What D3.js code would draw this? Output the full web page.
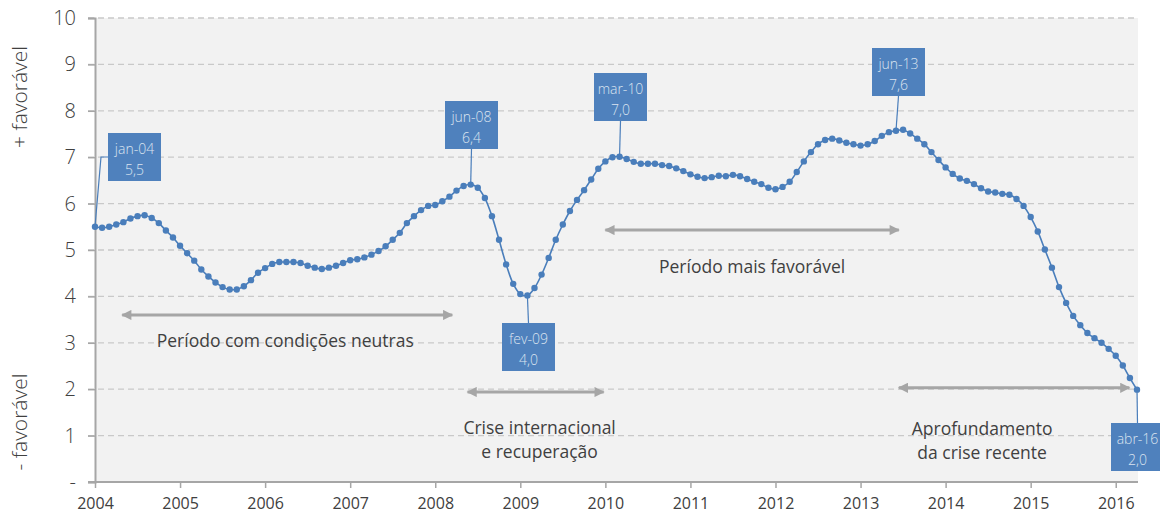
<!DOCTYPE html>
<html>
<head>
<meta charset="utf-8">
<script src="https://cdn.jsdelivr.net/npm/d3@7"></script>
<style>
  body { margin: 0; background: #fff; }
  svg text { font-family: "Open Sans", "Noto Sans", sans-serif; }
</style>
</head>
<body>
<div id="chart"></div>
<script>
// monthly index, jan-04 .. abr-16
var values = [
  5.50, 5.48, 5.50, 5.55, 5.60, 5.68, 5.73, 5.75, 5.69, 5.58, 5.42, 5.27,
  5.09, 4.93, 4.77, 4.58, 4.43, 4.30, 4.20, 4.15, 4.15, 4.22, 4.35, 4.51,
  4.61, 4.70, 4.74, 4.74, 4.74, 4.72, 4.66, 4.62, 4.59, 4.62, 4.66, 4.72,
  4.78, 4.80, 4.84, 4.90, 4.98, 5.08, 5.22, 5.37, 5.58, 5.73, 5.86, 5.95,
  5.97, 6.05, 6.15, 6.28, 6.38, 6.41, 6.34, 6.12, 5.73, 5.22, 4.69, 4.27,
  4.05, 4.02, 4.18, 4.47, 4.83, 5.22, 5.55, 5.84, 6.08, 6.29, 6.52, 6.75,
  6.91, 7.00, 7.01, 6.96, 6.90, 6.86, 6.86, 6.86, 6.83, 6.81, 6.76, 6.70,
  6.63, 6.58, 6.55, 6.57, 6.60, 6.59, 6.62, 6.59, 6.53, 6.47, 6.42, 6.34,
  6.31, 6.36, 6.47, 6.68, 6.91, 7.11, 7.28, 7.37, 7.40, 7.36, 7.31, 7.28,
  7.25, 7.28, 7.35, 7.46, 7.54, 7.57, 7.59, 7.51, 7.40, 7.28, 7.11, 6.94,
  6.78, 6.64, 6.54, 6.49, 6.42, 6.33, 6.26, 6.24, 6.21, 6.19, 6.10, 5.95,
  5.71, 5.40, 5.01, 4.62, 4.20, 3.86, 3.58, 3.38, 3.21, 3.10, 3.00, 2.87,
  2.72, 2.51, 2.24, 1.99
];
var years = [2004, 2005, 2006, 2007, 2008, 2009, 2010, 2011, 2012, 2013, 2014, 2015, 2016];
var yTicks = [0, 1, 2, 3, 4, 5, 6, 7, 8, 9, 10];

// highlighted points: month index, label, value text
var callouts = [
  { i: 0,   label: "jan-04", value: "5,5" },
  { i: 53,  label: "jun-08", value: "6,4" },
  { i: 61,  label: "fev-09", value: "4,0" },
  { i: 74,  label: "mar-10", value: "7,0" },
  { i: 113, label: "jun-13", value: "7,6" },
  { i: 147, label: "abr-16", value: "2,0" }
];

// period arrows: start/end as decimal years, y level, text lines
var periods = [
  { from: 2004.32, to: 2008.2,  y: 3.6, text: ["Período com condições neutras"] },
  { from: 2008.38, to: 2009.98, y: 1.94, text: ["Crise internacional", "e recuperação"] },
  { from: 2010.0,  to: 2013.45, y: 5.43, text: ["Período mais favorável"] },
  { from: 2013.45, to: 2016.16, y: 2.03, text: ["Aprofundamento", "da crise recente"] }
];

window.onload = init;

function init() {
    var w = 1160;
    var h = 523;
    var pLeft = 95, pRight = 1137, pTop = 18, pBottom = 482;

    var svg = d3.select("#chart").append("svg")
        .attr("width", w)
        .attr("height", h);

    var x = d3.scaleLinear().domain([2004, 2004 + 147 / 12]).range([pLeft, pRight]);
    var y = d3.scaleLinear().domain([0, 10]).range([pBottom, pTop]);
    function xi(i) { return x(2004 + i / 12); }

    var blue = "#4f81bd";
    var grey = "#a6a6a6";

    svg.append("defs").append("marker")
        .attr("id", "head")
        .attr("viewBox", "0 0 10 10")
        .attr("refX", 9).attr("refY", 5)
        .attr("markerWidth", 4).attr("markerHeight", 3.4)
        .attr("markerUnits", "strokeWidth")
        .attr("orient", "auto-start-reverse")
        .append("path")
        .attr("d", "M0,0 L10,5 L0,10 z")
        .attr("fill", grey);

    // plot background
    svg.append("rect")
        .attr("x", pLeft).attr("y", pTop)
        .attr("width", pRight - pLeft + 1).attr("height", pBottom - pTop)
        .attr("fill", "#f2f2f2");

    // gridlines
    svg.selectAll("line.grid")
        .data(yTicks.filter(function(d) { return d > 0; }))
        .enter()
        .append("line")
        .attr("class", "grid")
        .attr("x1", pLeft - 7).attr("x2", pRight)
        .attr("y1", function(d) { return y(d); })
        .attr("y2", function(d) { return y(d); })
        .attr("stroke", "#c9c9c9")
        .attr("stroke-width", 1.3)
        .attr("stroke-dasharray", "6,4");

    // y axis
    var yAxis = d3.axisLeft(y)
        .tickValues(yTicks)
        .tickSize(7)
        .tickPadding(12)
        .tickFormat(function(d) { return d === 0 ? "-" : d; });
    var gy = svg.append("g").attr("transform", "translate(" + pLeft + ",0)").call(yAxis);
    gy.select(".domain").attr("stroke", grey).attr("stroke-width", 2);
    gy.selectAll(".tick line").attr("stroke", grey).attr("stroke-width", 1.5);
    gy.selectAll("text")
        .attr("font-size", 20)
        .attr("font-weight", 300)
        .attr("fill", "#404040")
        .style("font-family", "'Open Sans', sans-serif");

    // x axis
    var xAxis = d3.axisBottom(x)
        .tickValues(years)
        .tickSize(6)
        .tickPadding(10)
        .tickFormat(d3.format("d"));
    var gx = svg.append("g").attr("transform", "translate(0," + pBottom + ")").call(xAxis);
    gx.select(".domain").attr("stroke", grey).attr("stroke-width", 2)
        .attr("d", "M" + (pLeft - 7) + ",0H" + (pRight + 1));
    gx.selectAll(".tick line").attr("stroke", grey).attr("stroke-width", 1.5);
    gx.selectAll("text")
        .attr("font-size", 16)
        .attr("fill", "#404040")
        .style("font-family", "'Open Sans', sans-serif");

    // axis titles
    svg.append("text")
        .attr("transform", "translate(27,97) rotate(-90)")
        .attr("text-anchor", "middle")
        .attr("font-size", 21)
        .attr("font-weight", 300)
        .attr("fill", "#404040")
        .text("+ favorável");
    svg.append("text")
        .attr("transform", "translate(27,422) rotate(-90)")
        .attr("text-anchor", "middle")
        .attr("font-size", 21)
        .attr("font-weight", 300)
        .attr("fill", "#404040")
        .text("- favorável");

    // period arrows and texts (text offsets from the arrow: dx, dy of first baseline)
    var textOffset = [
        { dx: -2,  dy: 32 },
        { dx: 4,   dy: 42 },
        { dx: 0,   dy: 43 },
        { dx: -32, dy: 47 }
    ];
    periods.forEach(function(p, n) {
        svg.append("line")
            .attr("x1", x(p.from)).attr("x2", x(p.to))
            .attr("y1", y(p.y)).attr("y2", y(p.y))
            .attr("stroke", grey)
            .attr("stroke-width", 3)
            .attr("marker-start", "url(#head)")
            .attr("marker-end", "url(#head)");
        var cx = (x(p.from) + x(p.to)) / 2 + textOffset[n].dx;
        p.text.forEach(function(t, k) {
            svg.append("text")
                .attr("x", cx)
                .attr("y", y(p.y) + textOffset[n].dy + k * 24)
                .attr("text-anchor", "middle")
                .attr("font-size", 17.5)
                .attr("fill", "#404040")
                .text(t);
        });
    });

    // line
    var line = d3.line()
        .x(function(d, i) { return xi(i); })
        .y(function(d) { return y(d); })
        .curve(d3.curveCatmullRom.alpha(0.5));

    svg.append("path")
        .datum(values)
        .attr("d", line)
        .attr("fill", "none")
        .attr("stroke", "#4a7ebb")
        .attr("stroke-width", 1.6);

    svg.selectAll("circle.pt")
        .data(values)
        .enter()
        .append("circle")
        .attr("class", "pt")
        .attr("cx", function(d, i) { return xi(i); })
        .attr("cy", function(d) { return y(d); })
        .attr("r", 3.2)
        .attr("fill", "#4a7ebb");

    // callout boxes
    var boxPos = {
        "jan-04": { bx: 108,  by: 133 },
        "jun-08": { bx: 445,  by: 101 },
        "fev-09": { bx: 502,  by: 323 },
        "mar-10": { bx: 594,  by: 73 },
        "jun-13": { bx: 872,  by: 48 },
        "abr-16": { bx: 1111, by: 423 }
    };
    var bw = 53, bh = 48;

    callouts.forEach(function(c) {
        var px = xi(c.i), py = y(values[c.i]);
        var b = boxPos[c.label];
        var bcx = b.bx + bw / 2;
        var leader;
        if (c.label === "jan-04") {
            leader = "M" + px + "," + py + "L" + (px + 6) + "," + (b.by + 24) + "L" + b.bx + "," + (b.by + 24);
        } else if (b.by < py) {
            leader = "M" + px + "," + py + "L" + bcx + "," + (b.by + bh);
        } else {
            leader = "M" + px + "," + py + "L" + bcx + "," + b.by;
        }
        svg.append("path")
            .attr("d", leader)
            .attr("fill", "none")
            .attr("stroke", "#4a7ebb")
            .attr("stroke-width", 1.2);
        svg.append("rect")
            .attr("x", b.bx).attr("y", b.by)
            .attr("width", bw).attr("height", bh)
            .attr("fill", blue);
        svg.append("text")
            .attr("x", bcx).attr("y", b.by + 21)
            .attr("text-anchor", "middle")
            .attr("font-size", 14)
            .attr("font-weight", 300)
            .attr("fill", "#dbe4f0")
            .text(c.label);
        svg.append("text")
            .attr("x", bcx).attr("y", b.by + 42)
            .attr("text-anchor", "middle")
            .attr("font-size", 14)
            .attr("font-weight", 300)
            .attr("fill", "#dbe4f0")
            .text(c.value);
    });
}
</script>
</body>
</html>
